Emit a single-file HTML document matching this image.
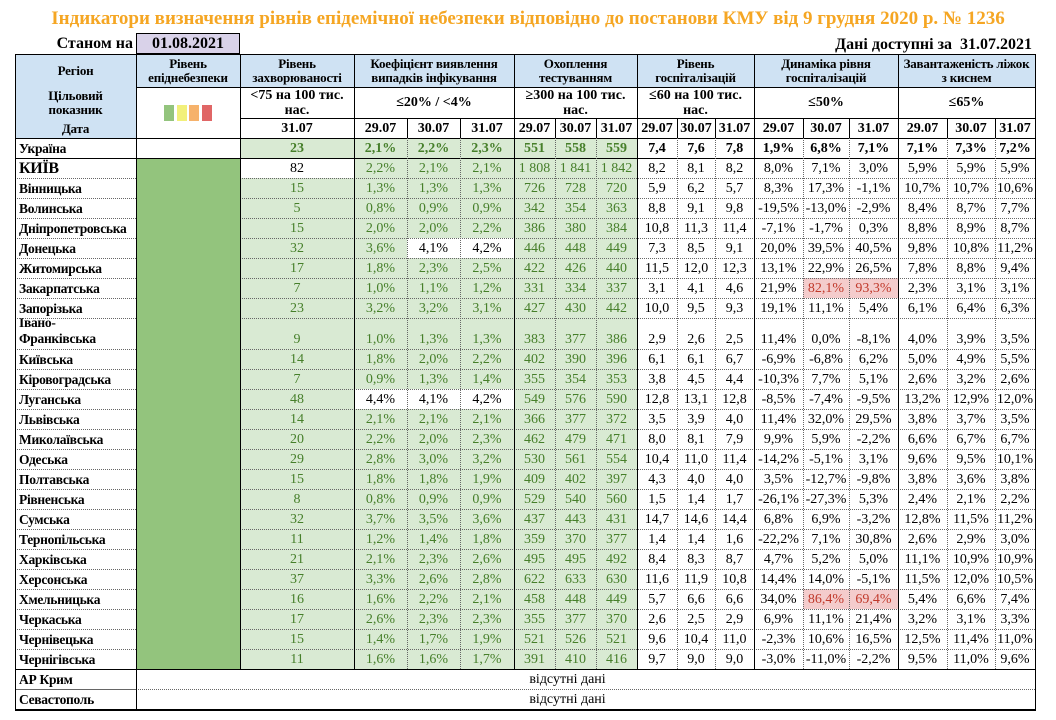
<!DOCTYPE html>
<html><head><meta charset="utf-8">
<style>
html,body{margin:0;padding:0;background:#fff;}
body{width:1056px;height:720px;position:relative;overflow:hidden;font-family:"Liberation Serif","Noto Serif CJK SC",serif;}
.c{position:absolute;box-sizing:border-box;font-size:14px;line-height:15px;text-align:center;display:flex;align-items:flex-end;justify-content:center;padding-bottom:2px;color:#000;white-space:nowrap;}
.hd{font-weight:bold;background:#cfe2f3;align-items:center;white-space:normal;line-height:14px;padding:0 2px;font-size:13px;letter-spacing:-0.2px;}
.b{font-weight:bold;}
.g{background:#d9ead3;color:#467f2a;}
.lvl{background:#93c47d;}
.pk{background:#f4cccc;color:#c0392b;}
.rn{justify-content:flex-start;padding-left:4px;font-weight:bold;font-size:13.5px;letter-spacing:-0.3px;overflow:hidden;}
.ln{position:absolute;}
</style></head><body>
<div style="position:absolute;left:0;top:8px;width:1056px;text-align:center;font-weight:bold;font-size:19px;color:#f5a623;">Індикатори визначення рівнів епідемічної небезпеки відповідно до постанови КМУ від 9 грудня 2020 р. № 1236</div>
<div style="position:absolute;left:15px;width:118px;top:35px;text-align:right;font-weight:bold;font-size:16px;">Станом на</div>
<div style="position:absolute;left:136px;top:33px;width:104px;height:21px;box-sizing:border-box;border:1px solid #000;background:#d9d2e9;text-align:center;font-weight:bold;font-size:16px;line-height:19px;">01.08.2021</div>
<div style="position:absolute;right:24px;top:36px;font-weight:bold;font-size:16px;">Дані доступні за&nbsp; 31.07.2021</div>
<div id="t"></div>
<script>
const regions=["Україна","КИЇВ","Вінницька","Волинська","Дніпропетровська","Донецька","Житомирська","Закарпатська","Запорізька","Івано-Франківська","Київська","Кіровоградська","Луганська","Львівська","Миколаївська","Одеська","Полтавська","Рівненська","Сумська","Тернопільська","Харківська","Херсонська","Хмельницька","Черкаська","Чернівецька","Чернігівська"];
const incidence=[23,82,15,5,15,32,17,7,23,9,14,7,48,14,20,29,15,8,32,11,21,37,16,17,15,11];
const positivity=[[2.1,2.2,2.3],[2.2,2.1,2.1],[1.3,1.3,1.3],[0.8,0.9,0.9],[2.0,2.0,2.2],[3.6,4.1,4.2],[1.8,2.3,2.5],[1.0,1.1,1.2],[3.2,3.2,3.1],[1.0,1.3,1.3],[1.8,2.0,2.2],[0.9,1.3,1.4],[4.4,4.1,4.2],[2.1,2.1,2.1],[2.2,2.0,2.3],[2.8,3.0,3.2],[1.8,1.8,1.9],[0.8,0.9,0.9],[3.7,3.5,3.6],[1.2,1.4,1.8],[2.1,2.3,2.6],[3.3,2.6,2.8],[1.6,2.2,2.1],[2.6,2.3,2.3],[1.4,1.7,1.9],[1.6,1.6,1.7]];
const testing=[[551,558,559],[1808,1841,1842],[726,728,720],[342,354,363],[386,380,384],[446,448,449],[422,426,440],[331,334,337],[427,430,442],[383,377,386],[402,390,396],[355,354,353],[549,576,590],[366,377,372],[462,479,471],[530,561,554],[409,402,397],[529,540,560],[437,443,431],[359,370,377],[495,495,492],[622,633,630],[458,448,449],[355,377,370],[521,526,521],[391,410,416]];
const hosp=[[7.4,7.6,7.8],[8.2,8.1,8.2],[5.9,6.2,5.7],[8.8,9.1,9.8],[10.8,11.3,11.4],[7.3,8.5,9.1],[11.5,12.0,12.3],[3.1,4.1,4.6],[10.0,9.5,9.3],[2.9,2.6,2.5],[6.1,6.1,6.7],[3.8,4.5,4.4],[12.8,13.1,12.8],[3.5,3.9,4.0],[8.0,8.1,7.9],[10.4,11.0,11.4],[4.3,4.0,4.0],[1.5,1.4,1.7],[14.7,14.6,14.4],[1.4,1.4,1.6],[8.4,8.3,8.7],[11.6,11.9,10.8],[5.7,6.6,6.6],[2.6,2.5,2.9],[9.6,10.4,11.0],[9.7,9.0,9.0]];
const dynamics=[[1.9,6.8,7.1],[8.0,7.1,3.0],[8.3,17.3,-1.1],[-19.5,-13.0,-2.9],[-7.1,-1.7,0.3],[20.0,39.5,40.5],[13.1,22.9,26.5],[21.9,82.1,93.3],[19.1,11.1,5.4],[11.4,0.0,-8.1],[-6.9,-6.8,6.2],[-10.3,7.7,5.1],[-8.5,-7.4,-9.5],[11.4,32.0,29.5],[9.9,5.9,-2.2],[-14.2,-5.1,3.1],[3.5,-12.7,-9.8],[-26.1,-27.3,5.3],[6.8,6.9,-3.2],[-22.2,7.1,30.8],[4.7,5.2,5.0],[14.4,14.0,-5.1],[34.0,86.4,69.4],[6.9,11.1,21.4],[-2.3,10.6,16.5],[-3.0,-11.0,-2.2]];
const beds=[[7.1,7.3,7.2],[5.9,5.9,5.9],[10.7,10.7,10.6],[8.4,8.7,7.7],[8.8,8.9,8.7],[9.8,10.8,11.2],[7.8,8.8,9.4],[2.3,3.1,3.1],[6.1,6.4,6.3],[4.0,3.9,3.5],[5.0,4.9,5.5],[2.6,3.2,2.6],[13.2,12.9,12.0],[3.8,3.7,3.5],[6.6,6.7,6.7],[9.6,9.5,10.1],[3.8,3.6,3.8],[2.4,2.1,2.2],[12.8,11.5,11.2],[2.6,2.9,3.0],[11.1,10.9,10.9],[11.5,12.0,10.5],[5.4,6.6,7.4],[3.2,3.1,3.3],[12.5,11.4,11.0],[9.5,11.0,9.6]];
const dates=["29.07","30.07","31.07"];
const X=[15,136,240,354,407,460,514,555,596,637,677,715,754,803,849,898,947,995,1035];
const T=document.getElementById('t');
function cell(x1,x2,y1,y2,txt,cls,name){
  const d=document.createElement('div');
  d.className='c '+(cls||'');
  d.style.left=x1+'px';d.style.top=y1+'px';d.style.width=(x2-x1)+'px';d.style.height=(y2-y1)+'px';
  d.innerHTML=txt;
  
  
  T.appendChild(d);return d;
}
function line(x,y,w,h,style){
  const d=document.createElement('div');d.className='ln';
  d.style.left=x+'px';d.style.top=y+'px';d.style.width=w+'px';d.style.height=h+'px';
  if(style==='dh'){d.style.borderTop='1px dotted #666';d.style.height='0';}
  else if(style==='dv'){d.style.borderLeft='1px dotted #666';d.style.width='0';}
  else d.style.background='#000';
  
  
  T.appendChild(d);
}
const fmt1=v=>v.toFixed(1).replace('.',',');
const pct=v=>fmt1(v)+'%';
const thou=v=>v>=1000?Math.floor(v/1000)+' '+String(v%1000).padStart(3,'0'):String(v);
const H1=54,H2=87,H3=118,D0=138;
cell(X[0],X[1],H1,H2,'Регіон','hd','header-region');
cell(X[1],X[2],H1,H2,'Рівень епіднебезпеки','hd','header-level');
cell(X[2],X[3],H1,H2,'Рівень захворюваності','hd','header-incidence');
cell(X[3],X[6],H1,H2,'Коефіцієнт виявлення випадків інфікування','hd','header-positivity');
cell(X[6],X[9],H1,H2,'Охоплення тестуванням','hd','header-testing');
cell(X[9],X[12],H1,H2,'Рівень госпіталізацій','hd','header-hospitalization');
cell(X[12],X[15],H1,H2,'Динаміка рівня госпіталізацій','hd','header-hosp-dynamics');
cell(X[15],X[18],H1,H2,'Завантаженість ліжок з киснем','hd','header-oxygen-beds');
const rl=cell(X[0],X[1],H2,D0,'','hd','target-date-label');
rl.style.display='block';rl.style.paddingTop='2px';
rl.innerHTML='Цільовий<br>показник<div style="margin-top:5px">Дата</div>';
const lv=cell(X[1],X[2],H2,D0,'','','level-legend');
const sq=['#93c47d','#f2f07a','#f6b26b','#e06666'];
sq.forEach((c,i)=>{const s=document.createElement('div');s.style.cssText='position:absolute;top:18px;width:10px;height:16px;left:'+(28+i*12.5)+'px;background:'+c;


lv.appendChild(s);});
const tg=[[2,3,'&lt;75 на 100 тис.<br>нас.'],[3,6,'≤20% / &lt;4%'],[6,9,'≥300 на 100 тис.<br>нас.'],[9,12,'≤60 на 100 тис.<br>нас.'],[12,15,'≤50%'],[15,18,'≤65%']];
tg.forEach(t=>{const c=cell(X[t[0]],X[t[1]],H2,H3,t[2],'b','target-value');c.style.alignItems='center';c.style.whiteSpace='normal';c.style.paddingBottom='0';});
cell(X[2],X[3],H3,D0,'31.07','b','date-header');
for(let g=0;g<5;g++)for(let k=0;k<3;k++)cell(X[3+g*3+k],X[4+g*3+k],H3,D0,dates[k],'b','date-header');
let y=D0;const rowY=[];
regions.forEach((r,i)=>{
  const h=(i===9)?31:20;rowY.push(y);
  const bold=i===0?' b':'';
  const rn=cell(X[0],X[1],y,y+h,r==='Івано-Франківська'?'<span style="white-space:normal;line-height:16px;text-align:left">Івано-<br>Франківська</span>':r,'rn','region-name');
  if(i===1)rn.style.fontSize='16px';
  cell(X[1],X[2],y,y+h,'',i===0?'':'lvl','level-cell');
  cell(X[2],X[3],y,y+h,String(incidence[i]),(incidence[i]<75?'g':'')+bold,'incidence-value');
  for(let k=0;k<3;k++){
    cell(X[3+k],X[4+k],y,y+h,pct(positivity[i][k]),(positivity[i][k]<4?'g':'')+bold,'positivity-value');
    cell(X[6+k],X[7+k],y,y+h,thou(testing[i][k]),(testing[i][k]>=300?'g':'')+bold,'testing-value');
    cell(X[9+k],X[10+k],y,y+h,fmt1(hosp[i][k]),bold,'hospitalization-value');
    cell(X[12+k],X[13+k],y,y+h,pct(dynamics[i][k]),(dynamics[i][k]>50?'pk':'')+bold,'hosp-dynamics-value');
    cell(X[15+k],X[16+k],y,y+h,pct(beds[i][k]),bold,'oxygen-beds-value');
  }
  y+=h;
});
const yEnd=y;
['АР Крим','Севастополь'].forEach((r,j)=>{
  cell(X[0],X[1],y,y+20,r,'rn','region-name');
  const c=cell(X[1],X[18],y,y+20,'відсутні дані','','no-data');c.style.paddingRight='36px';
  rowY.push(y);y+=20;
});
const yB=y;
line(X[0],H1,X[18]-X[0]+1,1);
line(X[1],H2,X[18]-X[1]+1,1);
line(X[2],H3,X[18]-X[2]+1,1);
line(X[0],D0,X[18]-X[0]+1,1);
line(X[0],D0+20,X[18]-X[0]+1,1);
line(X[0],yEnd,X[18]-X[0]+1,1);
line(X[0],yB,X[18]-X[0]+1,2);
rowY.forEach((ry,i)=>{if(i>1&&i!==regions.length){line(X[0],ry,X[1]-X[0],0,'dh');line(X[2],ry,X[18]-X[2],0,'dh');}});
line(X[0],yEnd+20,X[18]-X[0],0,'dh');
[0,1,2,3,6,9,12,15,18].forEach(i=>line(X[i],H1,1,(i===0||i===1||i===18?yB:yEnd)-H1+ (i===0||i===1||i===18?2:0)));
[4,5,7,8,10,11,13,14,16,17].forEach(i=>{line(X[i],H3,1,D0-H3);line(X[i],D0,0,yEnd-D0,'dv');});
</script>
</body></html>
